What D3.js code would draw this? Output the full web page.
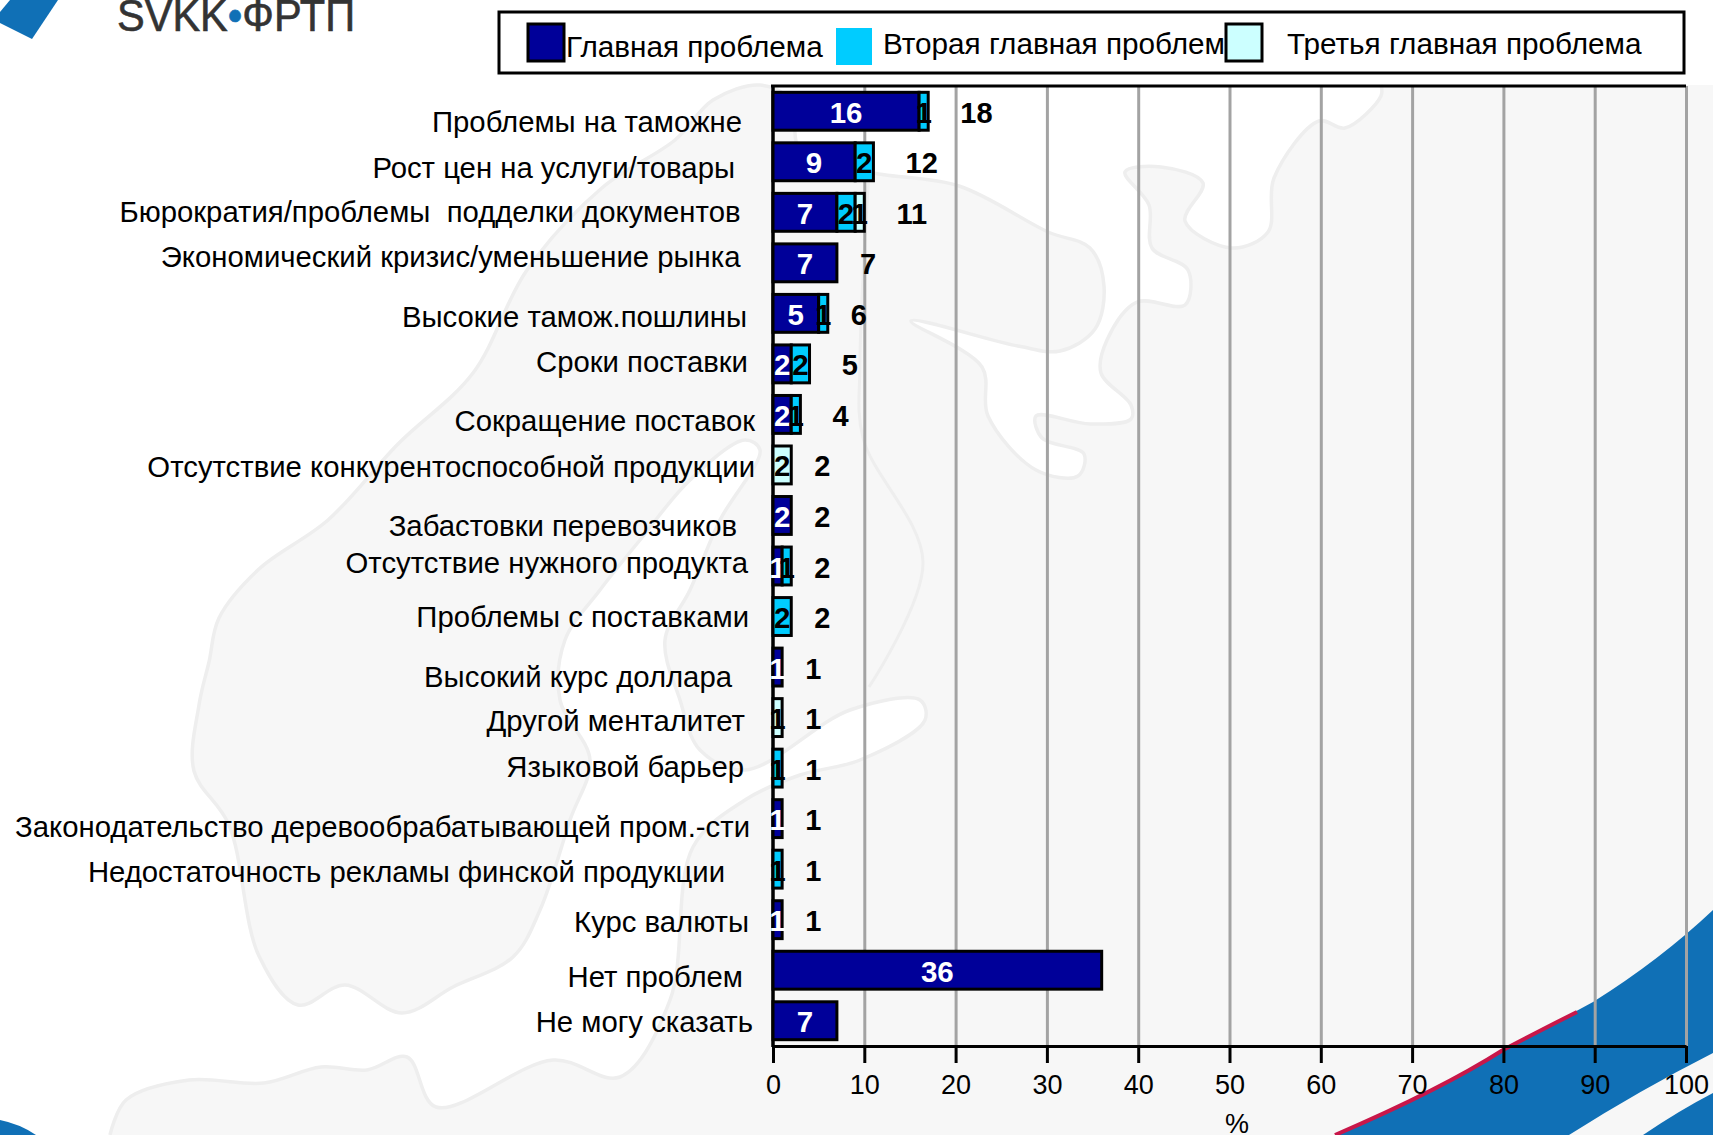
<!DOCTYPE html>
<html><head><meta charset="utf-8">
<script src="https://cdn.jsdelivr.net/npm/d3@7/dist/d3.min.js"></script>
<style>html,body{margin:0;padding:0;background:#fff;overflow:hidden}svg{display:block}text{font-family:"Liberation Sans",Arial,sans-serif}</style>
</head><body><svg id="c" width="1713" height="1135"></svg>
<script>
const categories = ["Проблемы на таможне","Рост цен на услуги/товары","Бюрократия/проблемы  подделки документов","Экономический кризис/уменьшение рынка","Высокие тамож.пошлины","Сроки поставки","Сокращение поставок","Отсутствие конкурентоспособной продукции","Забастовки перевозчиков","Отсутствие нужного продукта","Проблемы с поставками","Высокий курс доллара","Другой менталитет","Языковой барьер","Законодательство деревообрабатывающей пром.-сти","Недостаточность рекламы финской продукции","Курс валюты","Нет проблем","Не могу сказать"];
const mainProblem   = [16,9,7,7,5,2,2,0,2,1,0,1,0,0,1,0,1,36,7];
const secondProblem = [1,2,2,0,1,2,1,0,0,1,2,0,0,1,0,1,0,0,0];
const thirdProblem  = [0,0,1,0,0,0,0,2,0,0,0,0,1,0,0,0,0,0,0];
const totals        = [18,12,11,7,6,5,4,2,2,2,2,1,1,1,1,1,1,null,null];
const seriesNames = ["Главная проблема","Вторая главная проблем","Третья главная проблема"];
const xTicks = [0,10,20,30,40,50,60,70,80,90,100];
const axisTitle = "%";

// layout-only: hand placement of category labels in the reference
const labelGap = [31,38,32.5,32.5,26,25,18,18,36,25,24,41,28,29,23,48,24,30,20];
const labelNudge = [11,6,0,-6,4,-2,7,2,11,-3,0,10,3,-1,8,3,2,7,1];

const svg = d3.select("#c");
const colors = ["#000099","#00ccff","#ccffff"];
const ink = ["#fff","#000","#000"];
const x = d3.scaleLinear().domain([0,100]).range([773,1686]);
const y = d3.scaleBand().domain(categories).range([86,1046]).paddingInner(0.25).paddingOuter(0.125);

// ---- decorative background ----
const smooth = d3.line().curve(d3.curveCatmullRom.alpha(0.5));
const coast = [[1381,85],[1381,96],[1345,128],[1319,121],[1274,178],[1268,232],[1232,248],[1185,221],[1203,183],[1161,167],[1125,172],[1149,205],[1152,248],[1188,270],[1185,305],[1137,302],[1107,340],[1101,373],[1131,405],[1131,419],[1090,424],[1036,416],[1042,438],[1084,454],[1078,476],[1036,470],[988,416],[982,367],[911,321],[1018,346],[1060,351],[1095,329],[1104,286],[1090,248],[1048,232],[959,186],[869,172],[840,160],[800,150],[790,100],[760,85],[713,100],[675,140],[603,187],[527,270],[473,373],[398,444],[328,520],[259,569],[219,618],[209,662],[199,705],[194,771],[229,825],[259,956],[298,1005],[345,985],[402,1013],[453,987],[513,957],[540,910],[570,820],[590,760],[560,700],[565,640],[600,590],[640,540],[690,480],[745,440],[760,450],[720,520],[690,590],[665,640],[680,700],[700,750],[745,770],[850,710],[920,700],[925,720],[860,760],[800,775],[745,800],[693,847],[670,1000],[620,1077],[553,1060],[436,1107],[407,1057],[367,1070],[321,1067],[264,1083],[189,1080],[126,1100],[110,1135]];
const land = smooth(coast);
svg.append("path").attr("d", land+"L1713,1135L1713,85Z").attr("fill","#f7f7f7").attr("stroke","none");
svg.append("path").attr("d", land).attr("fill","none").attr("stroke","#eeeeee").attr("stroke-width",3.5);
svg.append("path").attr("d", smooth([[869,172],[860,362],[863,438],[923,562],[869,687]])).attr("fill","none").attr("stroke","#eeeeee").attr("stroke-width",3);

const blue = "#1070b6";
svg.append("path").attr("d","M1335,1135Q1440,1090 1503,1050Q1560,1020 1593,1002Q1660,960 1713,910L1713,1053Q1640,1090 1569,1135Z").attr("fill",blue);
svg.append("path").attr("d","M1643,1135Q1680,1110 1713,1093L1713,1135Z").attr("fill",blue);
svg.append("path").attr("d","M1335,1135Q1440,1090 1503,1050Q1545,1028 1577,1012").attr("fill","none").attr("stroke","#c8174a").attr("stroke-width",4);
svg.append("path").attr("d","M0,1120Q20,1124 36,1135L0,1135Z").attr("fill",blue);
svg.append("path").attr("d","M10,0L58,0L32,39L0,23L0,12Z").attr("fill",blue);
const logo = svg.append("text").attr("x",117).attr("y",31).attr("font-size",44).attr("textLength",238).attr("lengthAdjust","spacingAndGlyphs").attr("fill","#333").attr("stroke","#333").attr("stroke-width",0.6);
logo.append("tspan").text("SVKK");
logo.append("tspan").attr("fill",blue).attr("stroke",blue).text("•");
logo.append("tspan").text("ФРТП");

// ---- legend ----
svg.append("rect").attr("x",499).attr("y",12).attr("width",1185).attr("height",61).attr("fill","#fff").attr("stroke","#000").attr("stroke-width",3);
const legendText = [[566,57],[883,54],[1287,54]];
const legendSwatch = [[528,24,"#000"],[836,28,"none"],[1226,24,"#000"]];
seriesNames.forEach((n,i)=>{
  svg.append("text").attr("x",legendText[i][0]).attr("y",legendText[i][1]).attr("font-size",29.7).attr("fill","#000").text(n);
  svg.append("rect").attr("x",legendSwatch[i][0]).attr("y",legendSwatch[i][1]).attr("width",36).attr("height",37)
     .attr("fill",colors[i]).attr("stroke",legendSwatch[i][2]).attr("stroke-width",3);
});

// ---- grid and axes ----
const gridG = svg.append("g").attr("transform","translate(0,1046)")
  .call(d3.axisBottom(x).tickValues(xTicks.slice(1)).tickSize(-960).tickFormat(""));
gridG.select(".domain").remove();
gridG.selectAll("line").attr("stroke","#a3a3a3").attr("stroke-width",3);

const axisG = svg.append("g").attr("transform","translate(0,1046)")
  .call(d3.axisBottom(x).tickValues(xTicks).tickSize(17).tickSizeOuter(0).tickPadding(12));
axisG.select(".domain").attr("stroke","#000").attr("stroke-width",3);
axisG.selectAll("line").attr("stroke","#000").attr("stroke-width",3);
axisG.selectAll("text").attr("font-size",27).attr("font-family",'"Liberation Sans",Arial,sans-serif').attr("fill","#000");
svg.append("line").attr("x1",x(0)-2).attr("x2",x(100)).attr("y1",86).attr("y2",86).attr("stroke","#000").attr("stroke-width",3);
svg.append("line").attr("x1",x(0)).attr("x2",x(0)).attr("y1",85).attr("y2",1047).attr("stroke","#000").attr("stroke-width",3.5);
svg.append("text").attr("x",x(50)+7.5).attr("y",1133).attr("text-anchor","middle").attr("font-size",27).text(axisTitle);

// ---- bars ----
const stack = categories.map((c,i)=>[mainProblem[i],secondProblem[i],thirdProblem[i]]);
categories.forEach((c,i)=>{
  let acc = 0;
  stack[i].forEach((v,s)=>{
    if(!v) return;
    svg.append("rect").attr("x",x(acc)).attr("y",y(c)).attr("width",x(acc+v)-x(acc)).attr("height",y.bandwidth())
      .attr("fill",colors[s]).attr("stroke","#000").attr("stroke-width",3);
    acc += v;
  });
});
categories.forEach((c,i)=>{
  let acc = 0;
  stack[i].forEach((v,s)=>{
    if(!v) return;
    svg.append("text").attr("x",x(acc+v/2)).attr("y",y(c)+y.bandwidth()/2+11.5).attr("text-anchor","middle")
      .attr("font-size",29.5).attr("font-weight","bold").attr("fill",ink[s]).text(v);
    acc += v;
  });
  if(totals[i]!=null){
    svg.append("text").attr("x",x(totals[i])+23).attr("y",y(c)+y.bandwidth()/2+11.5)
      .attr("font-size",29).attr("font-weight","bold").attr("fill","#000").text(totals[i]);
  }
  svg.append("text").attr("x",x(0)-labelGap[i]).attr("y",y(c)+y.bandwidth()/2+labelNudge[i]+10)
    .attr("text-anchor","end").attr("xml:space","preserve").style("white-space","pre").attr("font-size",29.3).attr("fill","#000").text(c);
});
</script></body></html>
